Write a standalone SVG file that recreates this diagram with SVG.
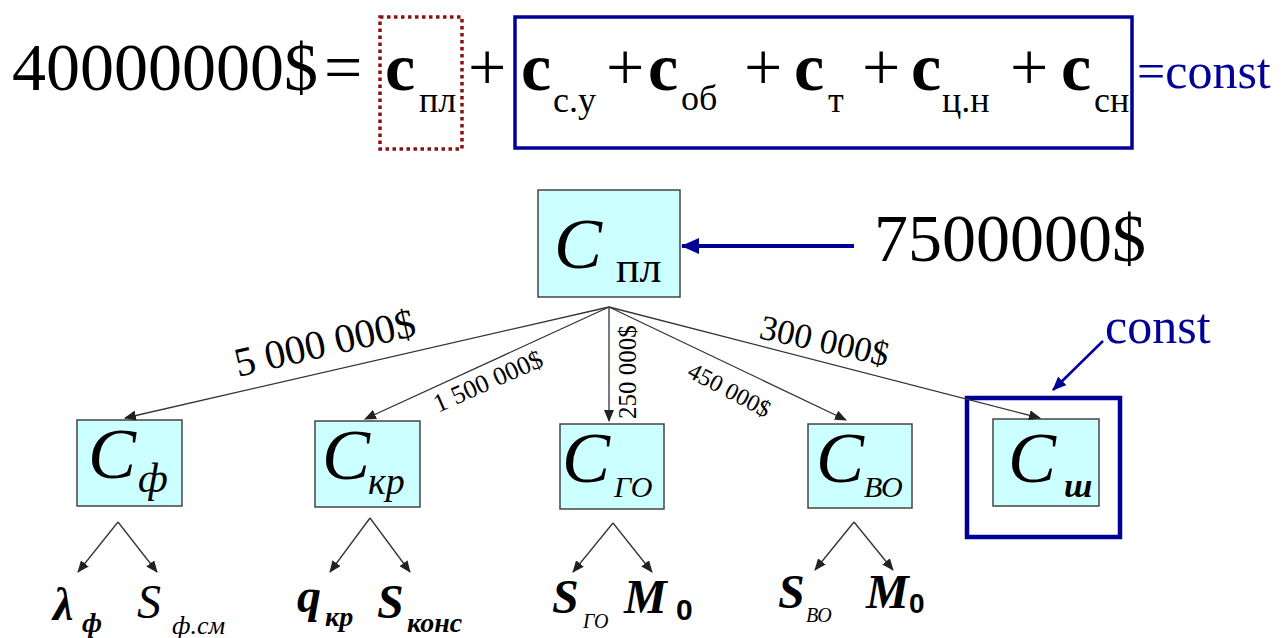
<svg xmlns="http://www.w3.org/2000/svg" width="1288" height="638" viewBox="0 0 1288 638">
<defs>
<marker id="ah" markerWidth="12" markerHeight="10" refX="11" refY="5" orient="auto" markerUnits="userSpaceOnUse"><path d="M0,0 L12,5 L0,10 Z" fill="#222"/></marker>
<marker id="ahb" markerWidth="18" markerHeight="16" refX="17" refY="8" orient="auto" markerUnits="userSpaceOnUse"><path d="M0,0 L18,8 L0,16 Z" fill="#000099"/></marker>
<marker id="ahb2" markerWidth="14" markerHeight="12" refX="13" refY="6" orient="auto" markerUnits="userSpaceOnUse"><path d="M0,0 L14,6 L0,12 Z" fill="#000099"/></marker>
</defs>
<style>
.big{font-size:68px}
.cb{font-size:68px;font-weight:bold}
.sub{font-size:36px}
.blue{fill:#000099}
.box{fill:#CCFFFF;stroke:#444;stroke-width:1.5}
.C{font-size:72px;font-style:italic}
.ci{font-style:italic}
.edge{stroke:#333;stroke-width:1.3;fill:none;marker-end:url(#ah)}
.lbl{font-size:26px}
</style>
<rect width="1288" height="638" fill="#fff"/>

<g id="formula" font-family="Liberation Serif">
<text class="big" x="12" y="90">40000000$</text>
<text class="big" x="324" y="90">=</text>
<rect x="380" y="17" width="82" height="132" fill="none" stroke="#8B1010" stroke-width="3.5" stroke-dasharray="3.5,3.5"/>
<text class="cb" x="385" y="90">c</text><text class="sub" x="419" y="112">пл</text>
<text class="big" x="468" y="90">+</text>
<rect x="515" y="17" width="617" height="131" fill="none" stroke="#000099" stroke-width="3.5"/>
<text class="cb" x="521" y="90">c</text><text class="sub" x="553" y="112">с.у</text>
<text class="big" x="606" y="90">+</text>
<text class="cb" x="648" y="90">c</text><text class="sub" x="681" y="110">об</text>
<text class="big" x="744" y="90">+</text>
<text class="cb" x="794" y="90">c</text><text class="sub" x="828" y="112">т</text>
<text class="big" x="862" y="90">+</text>
<text class="cb" x="911" y="90">c</text><text class="sub" x="942" y="112">ц.н</text>
<text class="big" x="1010" y="90">+</text>
<text class="cb" x="1061" y="90">c</text><text class="sub" x="1094" y="112">сн</text>
<text class="blue" x="1137" y="88" font-size="50">=const</text>
</g>

<g id="node-pl" font-family="Liberation Serif">
<rect class="box" x="538" y="190" width="142" height="107"/>
<text class="C" x="554" y="268" font-size="90">C</text>
<text x="616" y="282" font-size="44">пл</text>
</g>
<g id="budget" font-family="Liberation Serif">
<text class="big" x="874" y="261">7500000$</text>
</g>

<g id="node-f" font-family="Liberation Serif">
<rect class="box" x="77" y="420" width="105" height="86"/>
<text class="C" x="88" y="478">C</text>
<text class="ci" x="138" y="492" font-size="42">ф</text>
</g>
<g id="node-kr" font-family="Liberation Serif">
<rect class="box" x="315" y="421" width="105" height="86"/>
<text class="C" x="322" y="479">C</text>
<text class="ci" x="368" y="494" font-size="38">кр</text>
</g>
<g id="node-go" font-family="Liberation Serif">
<rect class="box" x="560" y="424" width="104" height="85"/>
<text class="C" x="562" y="482">C</text>
<text class="ci" x="614" y="497" font-size="30">ГО</text>
</g>
<g id="node-vo" font-family="Liberation Serif">
<rect class="box" x="808" y="424" width="104" height="84"/>
<text class="C" x="816" y="482">C</text>
<text class="ci" x="864" y="497" font-size="30">ВО</text>
</g>
<g id="node-sh" font-family="Liberation Serif">
<rect x="967" y="398" width="153" height="139" fill="none" stroke="#000099" stroke-width="4.5"/>
<rect class="box" x="993" y="419" width="106" height="87"/>
<text class="C" x="1008" y="482">C</text>
<text class="ci" x="1064" y="497" font-size="34" font-weight="bold">ш</text>
<text class="blue" x="1105" y="343" font-size="50">const</text>
</g>

<g id="leaves" font-family="Liberation Serif">
<text class="ci" x="53" y="620" font-size="46" font-weight="bold">λ</text>
<text class="ci" x="82" y="632" font-size="28" font-weight="bold">ф</text>
<text class="ci" x="137" y="618" font-size="48">S</text>
<text class="ci" x="172" y="634" font-size="26">ф.см</text>
<text class="ci" x="297" y="612" font-size="48" font-weight="bold">q</text>
<text class="ci" x="325" y="626" font-size="28" font-weight="bold">кр</text>
<text class="ci" x="377" y="618" font-size="48" font-weight="bold">S</text>
<text class="ci" x="407" y="632" font-size="28" font-weight="bold">конс</text>
<text class="ci" x="552" y="613" font-size="48" font-weight="bold">S</text>
<text class="ci" x="583" y="628" font-size="20">ГО</text>
<text class="ci" x="624" y="613" font-size="48" font-weight="bold">M</text>
<text x="676" y="620" font-size="30" font-weight="bold" font-family="Liberation Sans">0</text>
<text class="ci" x="778" y="608" font-size="48" font-weight="bold">S</text>
<text class="ci" x="806" y="622" font-size="20">ВО</text>
<text class="ci" x="866" y="608" font-size="48" font-weight="bold">M</text>
<text x="909" y="613" font-size="28" font-weight="bold" font-family="Liberation Sans">0</text>
</g>

<g id="connectors" font-family="Liberation Serif">
<line x1="854" y1="246" x2="682" y2="246" stroke="#000099" stroke-width="4" marker-end="url(#ahb)"/>
<line x1="1103" y1="341" x2="1053" y2="390" stroke="#000099" stroke-width="2.5" marker-end="url(#ahb2)"/>
<line class="edge" x1="609" y1="307" x2="125" y2="418"/>
<line class="edge" x1="609" y1="307" x2="365" y2="419"/>
<line class="edge" x1="609" y1="307" x2="609" y2="421"/>
<line class="edge" x1="609" y1="307" x2="846" y2="420"/>
<line class="edge" x1="609" y1="307" x2="1040" y2="418"/>
<line class="edge" x1="118" y1="522" x2="78" y2="572"/>
<line class="edge" x1="118" y1="522" x2="157" y2="572"/>
<line class="edge" x1="370" y1="518" x2="330" y2="572"/>
<line class="edge" x1="370" y1="518" x2="410" y2="572"/>
<line class="edge" x1="613" y1="523" x2="573" y2="572"/>
<line class="edge" x1="613" y1="523" x2="652" y2="572"/>
<line class="edge" x1="854" y1="522" x2="815" y2="570"/>
<line class="edge" x1="854" y1="522" x2="893" y2="570"/>
<text transform="translate(238,377) rotate(-13)" font-size="41">5 000 000$</text>
<text transform="translate(438,413) rotate(-24)" class="lbl">1 500 000$</text>
<text transform="translate(636,419) rotate(-90)" font-size="25">250 000$</text>
<text transform="translate(686,376) rotate(28)" font-size="24">450 000$</text>
<text transform="translate(758,338) rotate(12.5)" font-size="35">300 000$</text>
</g>
</svg>
